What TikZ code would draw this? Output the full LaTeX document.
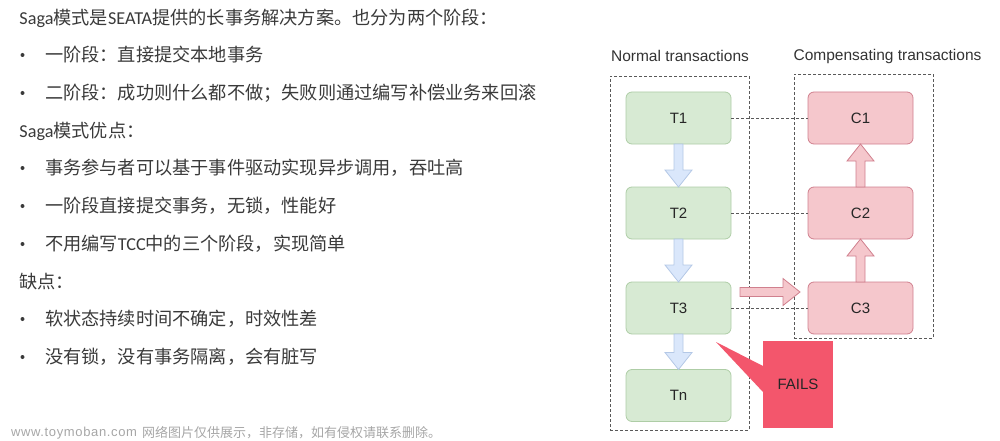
\documentclass[tikz,border=0pt]{standalone}
\usepackage{fontspec}
\setmainfont{Carlito}
\newfontfamily\cjk{Noto Sans CJK SC}
\newfontfamily\arialf{Liberation Sans}
\usetikzlibrary{calc}
\newcommand{\zh}[1]{{\cjk #1}}
\newcommand{\fatarrow}[3]{%
  \coordinate (fatbase) at ($(#3)!17pt!(#2)$);
  \draw[#1] ($(#2)!4.5pt!90:(#3)$) -- ($(fatbase)!4.5pt!-90:(#2)$) -- ($(fatbase)!13.5pt!-90:(#2)$) -- (#3)
    -- ($(fatbase)!13.5pt!90:(#2)$) -- ($(fatbase)!4.5pt!90:(#2)$) -- ($(#2)!4.5pt!-90:(#3)$) -- cycle;}
\definecolor{txt}{HTML}{3A3A3A}
\definecolor{gfill}{HTML}{D7EAD3}
\definecolor{gline}{HTML}{AECDA6}
\definecolor{rfill}{HTML}{F5C7CC}
\definecolor{rline}{HTML}{D0808E}
\definecolor{bfill}{HTML}{DAE7FB}
\definecolor{bline}{HTML}{B4C8E6}
\definecolor{failc}{HTML}{F3566C}
\tikzset{
  para/.style={anchor=west,inner sep=0pt,outer sep=0pt,text=txt,font=\fontsize{18.2}{22}\selectfont},
  bulletdot/.style={circle,fill=txt,inner sep=0pt,minimum size=4pt},
  tbox/.style={draw=gline,fill=gfill,line width=0.8pt,rounded corners=6pt,minimum width=105pt,minimum height=52pt,inner sep=0pt,outer sep=0pt,font=\arialf\fontsize{15}{18}\selectfont,text=black!85},
  cbox/.style={draw=rline,fill=rfill,line width=0.8pt,rounded corners=6pt,minimum width=105pt,minimum height=52pt,inner sep=0pt,outer sep=0pt,font=\arialf\fontsize{15}{18}\selectfont,text=black!85},
  groupbox/.style={draw=black!65,line width=0.8pt,densely dashed,inner sep=0pt,outer sep=0pt},
  linkline/.style={draw=black!65,line width=0.8pt,densely dashed},
  headtext/.style={inner sep=0pt,outer sep=0pt,font=\arialf\fontsize{15.5}{18}\selectfont,text=black!80},
  bluearrow/.style={draw=bline,fill=bfill,line width=0.8pt},
  redarrow/.style={draw=rline,fill=rfill,line width=0.8pt},
  failbox/.style={inner sep=0pt,outer sep=0pt,minimum width=70pt,minimum height=87pt,fill=failc},
  wmark/.style={anchor=west,inner sep=0pt,outer sep=0pt,text=black!35}
}
\begin{document}
\begin{tikzpicture}[x=1pt,y=-1pt]
\useasboundingbox (0,0) rectangle (1000,441);
% left text
\node[para] (l1) at (19.5,18) {Saga\zh{模式是}SEATA\zh{提供的长事务解决方案。也分为两个阶段：}};
\node[para] (l2) at (45,55) {\zh{一阶段：直接提交本地事务}};
\node[para] (l3) at (45,93) {\zh{二阶段：成功则什么都不做；失败则通过编写补偿业务来回滚}};
\node[para] (l4) at (19.5,131) {Saga\zh{模式优点：}};
\node[para] (l5) at (45,168) {\zh{事务参与者可以基于事件驱动实现异步调用，吞吐高}};
\node[para] (l6) at (45,206) {\zh{一阶段直接提交事务，无锁，性能好}};
\node[para] (l7) at (45,244) {\zh{不用编写}TCC\zh{中的三个阶段，实现简单}};
\node[para] (l8) at (19.5,282) {\zh{缺点：}};
\node[para] (l9) at (45,319) {\zh{软状态持续时间不确定，时效性差}};
\node[para] (l10) at (45,357) {\zh{没有锁，没有事务隔离，会有脏写}};
\foreach \i/\yy in {b2/55,b3/93,b5/168,b6/206,b7/244,b9/319,b10/357}
  \node[bulletdot] (\i) at (22.5,\yy) {};
\node[wmark,font=\arialf\fontsize{13}{15}\selectfont] (wm1) at (11,433) {\addfontfeatures{LetterSpace=5}www.toymoban.com};
\node[wmark,font=\fontsize{13}{15}\selectfont] (wm2) at (142,433) {\zh{网络图片仅供展示，非存储，如有侵权请联系删除。}};
% headings
\node[headtext] (hn) at (680,56) {Normal transactions};
\node[headtext] (hc) at (887.5,56) {Compensating transactions};
% groups
\node[groupbox,minimum width=139pt,minimum height=354pt] (gn) at (679.5,253) {};
\node[groupbox,minimum width=139pt,minimum height=264pt] (gc) at (863.5,206) {};
% boxes
\node[tbox] (T1) at (678.5,118) {T1};
\node[tbox] (T2) at (678.5,213) {T2};
\node[tbox] (T3) at (678.5,308) {T3};
\node[tbox] (Tn) at (678.5,395.5) {Tn};
\node[cbox] (C1) at (860.5,118) {C1};
\node[cbox] (C2) at (860.5,213) {C2};
\node[cbox] (C3) at (860.5,308) {C3};
% links
\draw[linkline] (T1) -- (C1);
\draw[linkline] (T2) -- (C2);
\draw[linkline] (T3) -- (C3);
% fat arrows
\fatarrow{bluearrow}{T1.south}{T2.north}
\fatarrow{bluearrow}{T2.south}{T3.north}
\fatarrow{bluearrow}{T3.south}{Tn.north}
\fatarrow{redarrow}{C2.north}{C1.south}
\fatarrow{redarrow}{C3.north}{C2.south}
\coordinate (hs) at (740,292);
\coordinate (he) at (800,292);
\fatarrow{redarrow}{hs}{he}
% callout
\node[failbox] (F) at (798,384.5) {};
\coordinate (tip) at (716,342);
\fill[failc] ($(F.north west)+(0,25)$) -- (tip) -- ($(F.north west)+(0,51)$) -- cycle;
\node[inner sep=0pt,outer sep=0pt,font=\arialf\fontsize{15}{18}\selectfont,text=black!85] (Ft) at (F.center) {FAILS};
\end{tikzpicture}
\end{document}
